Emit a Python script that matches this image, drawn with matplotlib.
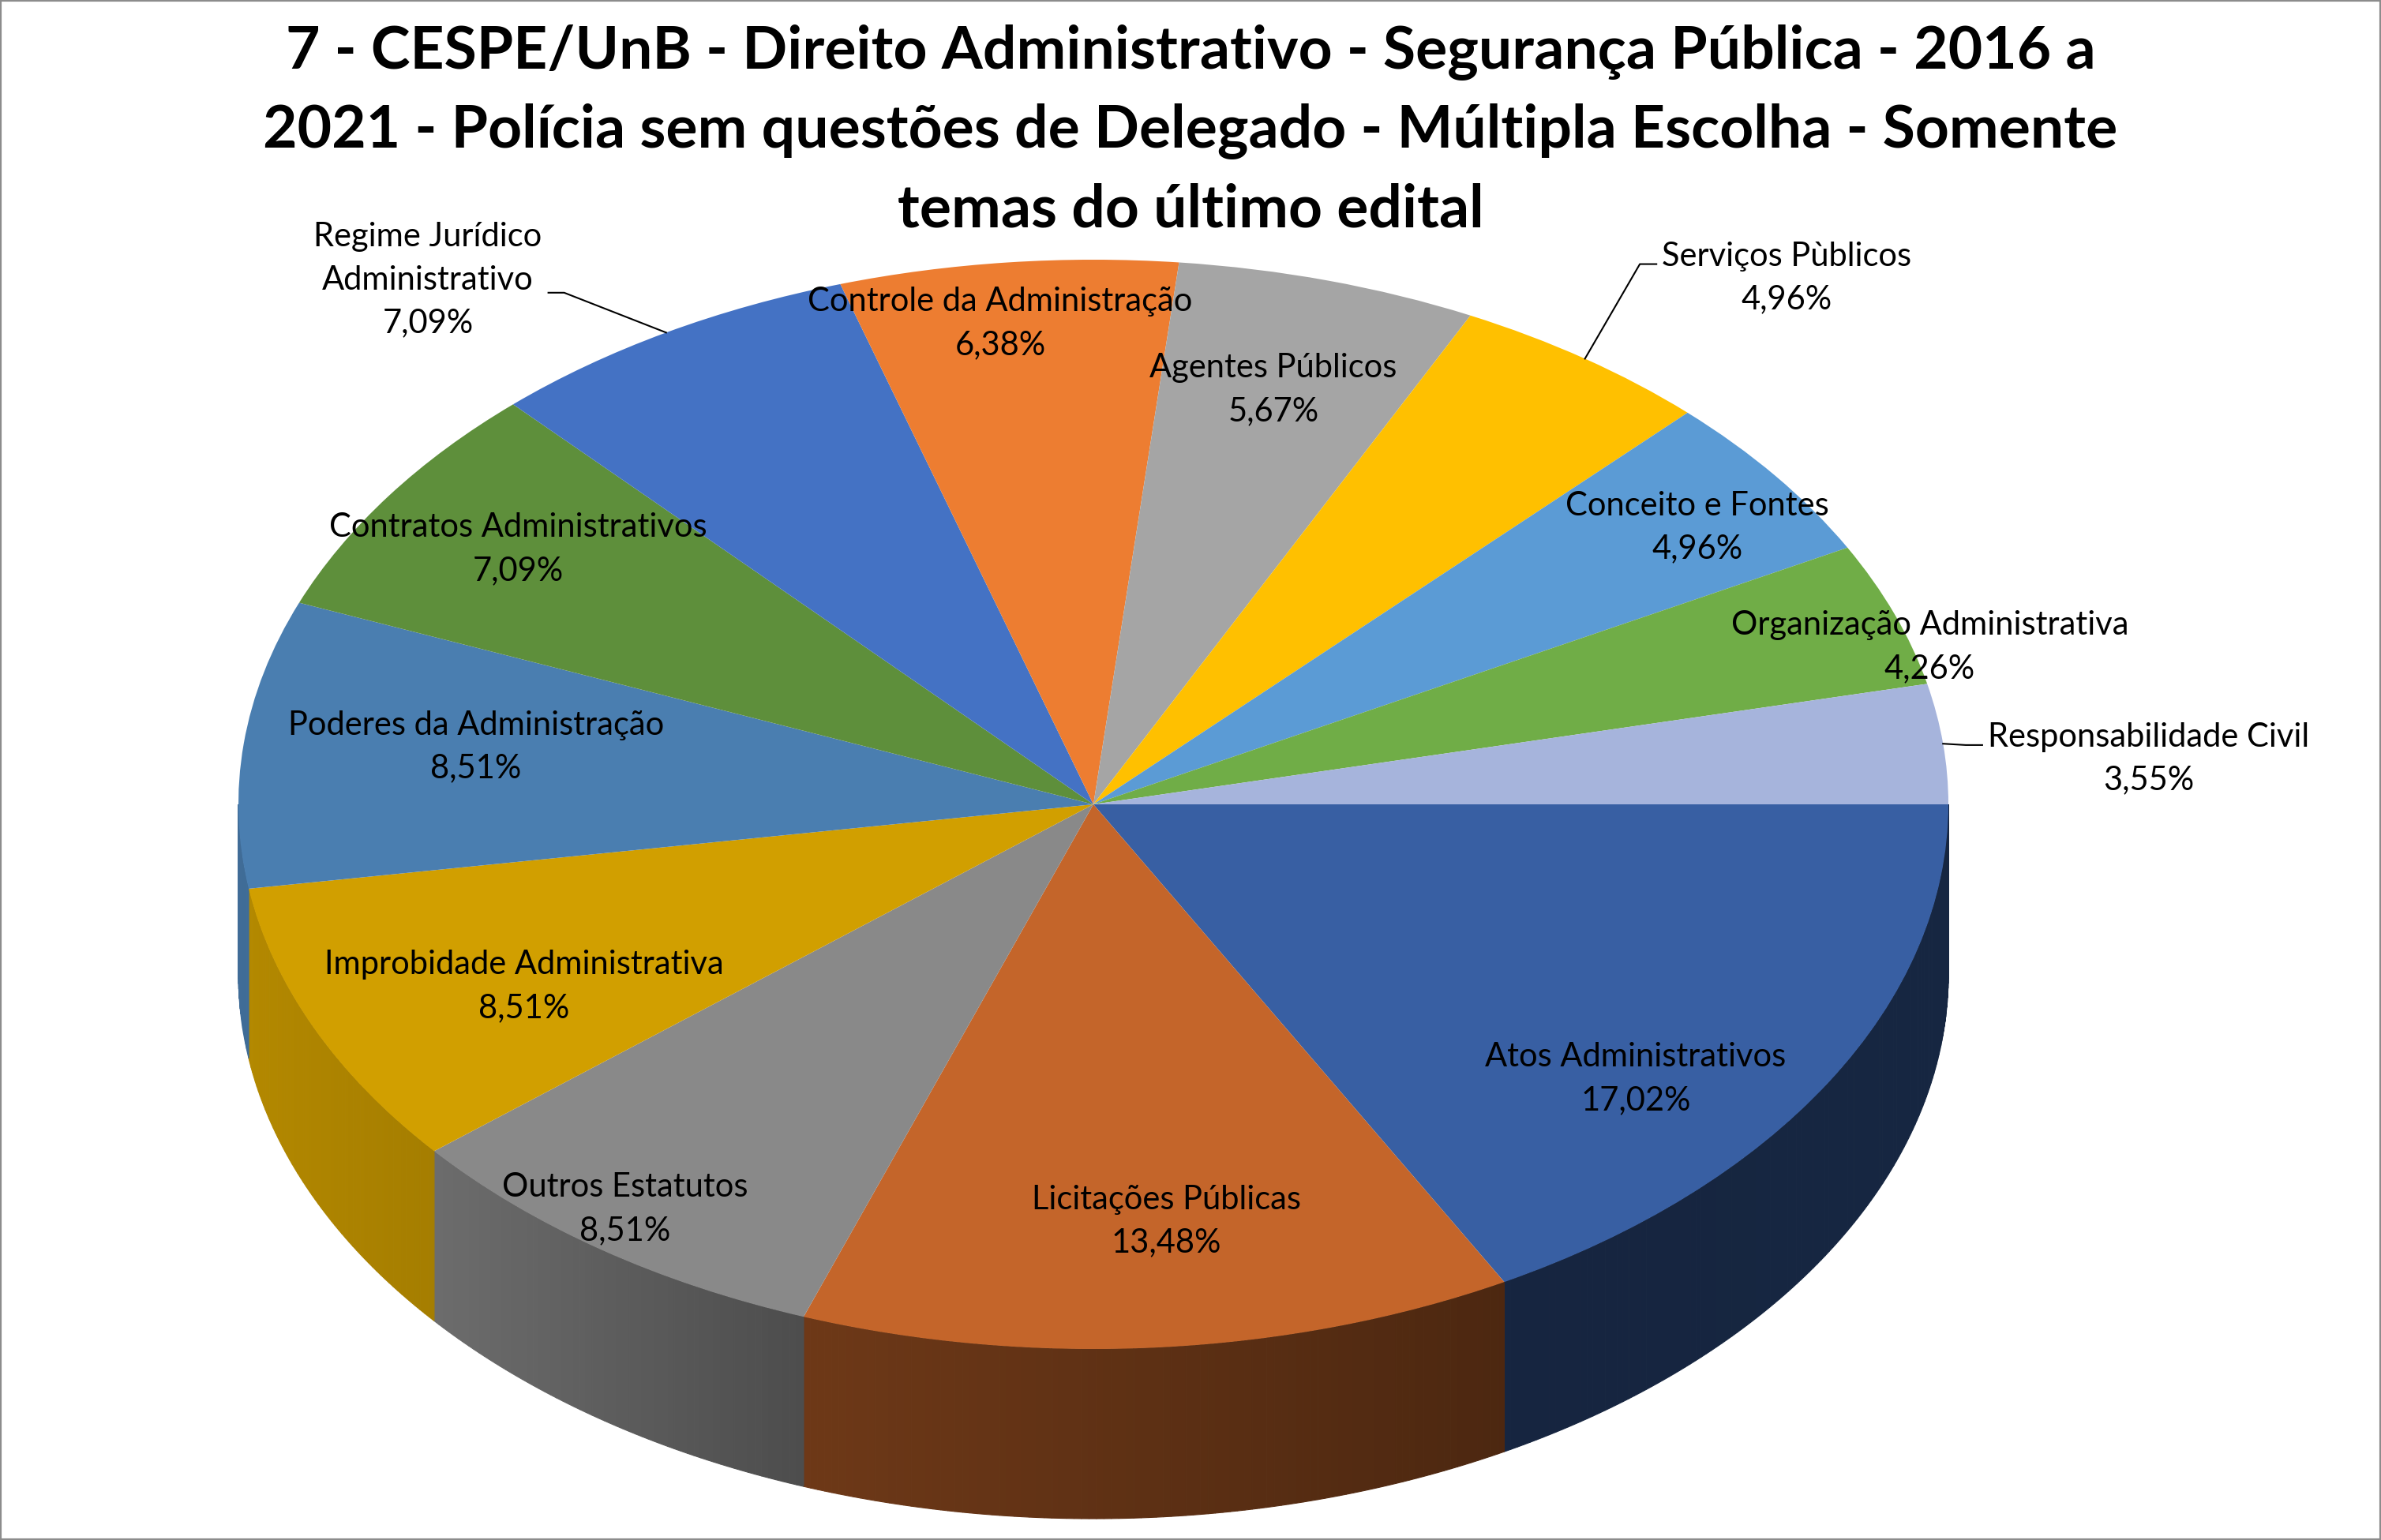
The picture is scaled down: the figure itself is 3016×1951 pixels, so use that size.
import numpy as np
import matplotlib
matplotlib.use("Agg")
import matplotlib.pyplot as plt
from matplotlib.transforms import Affine2D
from matplotlib.colors import to_rgb
from matplotlib.patches import Rectangle

plt.rcParams['font.family'] = ['Lato', 'DejaVu Sans']

titulo = ["7 - CESPE/UnB - Direito Administrativo - Segurança Pública - 2016 a",
          "2021 - Polícia sem questões de Delegado - Múltipla Escolha - Somente",
          "temas do último edital"]

temas = ["Atos Administrativos", "Licitações Públicas", "Outros Estatutos",
         "Improbidade Administrativa", "Poderes da Administração",
         "Contratos Administrativos", "Regime Jurídico\nAdministrativo",
         "Controle da Administração", "Agentes Públicos", "Serviços Pùblicos",
         "Conceito e Fontes", "Organização Administrativa", "Responsabilidade Civil"]
percentuais = [17.02, 13.48, 8.51, 8.51, 8.51, 7.09, 7.09, 6.38, 5.67, 4.96, 4.96, 4.26, 3.55]
cores = ["#385FA3", "#C4652A", "#898989", "#D19F00", "#4A7EB0", "#5E8F3B", "#4472C4",
         "#ED7D31", "#A5A5A5", "#FFC000", "#5B9BD5", "#70AD47", "#A6B4DC"]

# label layout: radius factor and angle shift (deg) from the slice middle
rot_r = [0.81, 0.77, 0.923, 0.745, 0.73, 0.82, 1.125, 0.89, 0.79, 1.18, 0.87, 1.02, 1.026]
rot_da = [-7.8, 1.9, -1.3, 2.4, -1.9, -0.4, 3.4, 1.3, 0.5, 2.3, -1.3, -4.0, -0.3]
fora = {6: 'right', 9: 'left', 12: 'left'}

W, H = 3016, 1951
fig = plt.figure(figsize=(W / 100, H / 100), dpi=100)
ax = fig.add_axes([0, 0, 1, 1])

cx, cy = 1385, H - 1019
rx, ry, prof = 1083, 690, 215

wedges, _ = ax.pie(percentuais, colors=cores, startangle=0, counterclock=False,
                   radius=1, center=(0, 0), wedgeprops=dict(linewidth=0))
ax.set_xlim(0, W)
ax.set_ylim(0, H)
ax.set_aspect('auto')
ax.axis('off')

elipse = Affine2D().scale(rx, ry).translate(cx, cy) + ax.transData
for w in wedges:
    w.set_transform(elipse)
    w.set_zorder(3)


def tom(c):
    return np.interp(c, [-1, -0.77, -0.34, 0.48, 1], [0.86, 0.79, 0.56, 0.39, 0.40])


# side wall of the front half
for w, cor in zip(wedges, cores):
    lo, hi = max(w.theta1, -180), min(w.theta2, 0)
    if lo >= hi:
        continue
    angs = np.linspace(lo, hi, max(2, int((hi - lo) / 0.5) + 1))
    for t0, t1 in zip(angs[:-1], angs[1:]):
        tt = np.radians([t0, t1])
        xs = cx + rx * np.cos(tt)
        ys = cy + ry * np.sin(tt)
        c = np.array(to_rgb(cor)) * tom(np.cos(tt.mean()))
        ax.fill([xs[0], xs[1], xs[1], xs[0]], [ys[0], ys[1], ys[1] - prof, ys[0] - prof],
                color=c, lw=0.8, zorder=2)

fs = 30
ls = 1.54
for i, (w, nome, p) in enumerate(zip(wedges, temas, percentuais)):
    txt = nome + "\n" + f"{p:.2f}".replace('.', ',') + "%"
    meio = (w.theta1 + w.theta2) / 2
    a = np.radians(meio + rot_da[i])
    x = cx + rot_r[i] * rx * np.cos(a)
    y = cy + rot_r[i] * ry * np.sin(a)
    if i in fora:
        am = np.radians(meio)
        ex, ey = cx + rx * np.cos(am), cy + ry * np.sin(am)
        lado = fora[i]
        dx = -20 if lado == 'right' else 21
        ax.plot([ex, x, x + dx], [ey, y, y], color='black', lw=1.5, zorder=4)
        if lado == 'right':
            ax.text(x + dx - 8, y + 16, txt, ha='right', va='center', multialignment='center',
                    fontsize=fs, linespacing=ls, zorder=5)
        else:
            ax.text(x + dx + 7, y + 29, txt, ha='left', va='top', multialignment='center',
                    fontsize=fs, linespacing=ls, zorder=5)
    else:
        ax.text(x, y, txt, ha='center', va='center', multialignment='center',
                fontsize=fs, linespacing=ls, zorder=5)

# title, one text per line (baselines 100 px apart)
for k, linha in enumerate(titulo):
    fig.text(0.5, 1 - (87 + 100 * k) / H, linha, ha='center', va='baseline',
             fontsize=54, fontweight='bold')
fig.add_artist(Rectangle((0, 0), 1, 1, transform=fig.transFigure, fill=False,
                         edgecolor='#8C8C8C', lw=3))

fig.savefig('out.png', dpi=100)
